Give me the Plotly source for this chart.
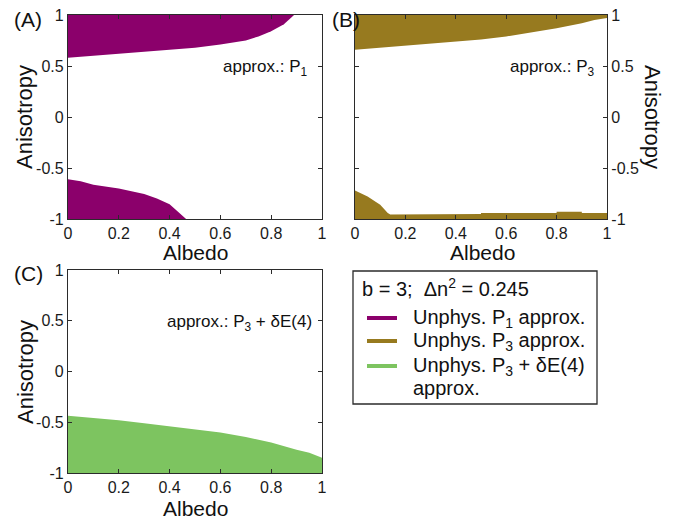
import plotly.graph_objects as go

# ---------------- data ----------------
albedo_A_top = [0.0, 0.1, 0.2, 0.3, 0.4, 0.5, 0.6, 0.7, 0.75, 0.8, 0.85, 0.89]
aniso_A_top = [0.58, 0.60, 0.62, 0.64, 0.66, 0.68, 0.71, 0.75, 0.79, 0.84, 0.91, 1.0]
albedo_A_bot = [0.0, 0.05, 0.1, 0.2, 0.3, 0.35, 0.4, 0.44, 0.465]
aniso_A_bot = [-0.61, -0.63, -0.665, -0.70, -0.755, -0.80, -0.855, -0.94, -1.0]

albedo_B_top = [0.0, 0.1, 0.2, 0.3, 0.4, 0.5, 0.6, 0.7, 0.8, 0.9, 0.95, 1.0]
aniso_B_top = [0.66, 0.68, 0.70, 0.72, 0.74, 0.76, 0.79, 0.83, 0.87, 0.92, 0.95, 0.97]
albedo_B_bot = [0.0, 0.05, 0.1, 0.13, 0.14, 0.2, 0.2, 0.5, 0.5, 0.8, 0.8, 0.9, 0.9, 1.0]
aniso_B_bot = [-0.72, -0.78, -0.86, -0.94, -0.955, -0.955, -0.95, -0.95, -0.94, -0.94,
               -0.93, -0.93, -0.94, -0.94]

albedo_C = [0.0, 0.1, 0.2, 0.3, 0.4, 0.5, 0.6, 0.7, 0.8, 0.9, 0.95, 1.0]
aniso_C = [-0.435, -0.455, -0.48, -0.51, -0.54, -0.57, -0.60, -0.645, -0.70, -0.77, -0.80, -0.85]

tick_vals_x = [0, 0.2, 0.4, 0.6, 0.8, 1]
tick_text_x = ["0", "0.2", "0.4", "0.6", "0.8", "1"]
tick_vals_y = [-1, -0.5, 0, 0.5, 1]
tick_text_y = ["-1", "-0.5", "0", "0.5", "1"]

legend_title = "b = 3;  \u0394n<sup>2</sup> = 0.245"
legend_labels = ["Unphys. P<sub>1</sub> approx.",
                 "Unphys. P<sub>3</sub> approx.",
                 "Unphys. P<sub>3</sub> + \u03b4E(4)"]
panel_notes = ["approx.: P<sub>1</sub>", "approx.: P<sub>3</sub>",
               "approx.: P<sub>3</sub> + \u03b4E(4)"]

PURPLE = "#8B006B"
OLIVE = "#977A1F"
GREEN = "#7DC460"
FONT = "Liberation Sans, Arial, sans-serif"
AXC = "#2b2b2b"

W, H = 676, 516
OFF = 8  # page body margin the figure sits inside


def px_x(p):
    return (p - OFF) / W


def px_y(p):
    return 1 - (p - OFF) / H


fig = go.Figure()


def top_region(x, y, color, xa, ya):
    xs = list(x) + [x[-1], x[0]]
    ys = list(y) + [1.0, 1.0]
    fig.add_trace(go.Scatter(x=xs, y=ys, fill="toself", fillcolor=color, mode="lines",
                             line=dict(width=0, color=color), showlegend=False,
                             hoverinfo="skip", xaxis=xa, yaxis=ya))


def bottom_region(x, y, color, xa, ya):
    xs = list(x) + [x[-1], x[0]]
    ys = list(y) + [-1.0, -1.0]
    fig.add_trace(go.Scatter(x=xs, y=ys, fill="toself", fillcolor=color, mode="lines",
                             line=dict(width=0, color=color), showlegend=False,
                             hoverinfo="skip", xaxis=xa, yaxis=ya))


top_region(albedo_A_top, aniso_A_top, PURPLE, "x", "y")
bottom_region(albedo_A_bot, aniso_A_bot, PURPLE, "x", "y")
top_region(albedo_B_top, aniso_B_top, OLIVE, "x2", "y2")
bottom_region(albedo_B_bot, aniso_B_bot, OLIVE, "x2", "y2")
bottom_region(albedo_C, aniso_C, GREEN, "x3", "y3")

TICKFONT = dict(family=FONT, size=16, color="#1a1a1a")

xdomA = [px_x(68), px_x(322)]
xdomB = [px_x(355), px_x(607)]
ydomTop = [px_y(219), px_y(15)]
ydomC = [px_y(473), px_y(270)]


def xax(dom, anchor):
    return dict(domain=dom, anchor=anchor, range=[0, 1], tickvals=tick_vals_x,
                ticktext=tick_text_x, showline=True, linecolor=AXC, linewidth=1.3,
                mirror="ticks", ticks="inside", ticklen=4, tickcolor=AXC, showgrid=False,
                zeroline=False, tickfont=TICKFONT, fixedrange=True, automargin=False,
                ticklabeloverflow="allow")


def yax(dom, anchor, side="left"):
    return dict(domain=dom, anchor=anchor, range=[-1, 1], tickvals=tick_vals_y,
                ticktext=tick_text_y, side=side, showline=True, linecolor=AXC, linewidth=1.3,
                mirror="ticks", ticks="inside", ticklen=4, tickcolor=AXC, showgrid=False,
                zeroline=False, tickfont=TICKFONT, fixedrange=True, automargin=False,
                ticklabeloverflow="allow")


fig.update_layout(
    width=W, height=H, margin=dict(l=0, r=0, t=0, b=0, pad=0), autosize=False,
    paper_bgcolor="white", plot_bgcolor="white", showlegend=False,
    xaxis=xax(xdomA, "y"), yaxis=yax(ydomTop, "x"),
    xaxis2=xax(xdomB, "y2"), yaxis2=yax(ydomTop, "x2", side="right"),
    xaxis3=xax(xdomA, "y3"), yaxis3=yax(ydomC, "x3"),
)

ann = []


def text(x, y, s, size, xanchor="center", yanchor="middle", angle=0):
    ann.append(dict(x=px_x(x), y=px_y(y), xref="paper", yref="paper", text=s, showarrow=False,
                    xanchor=xanchor, yanchor=yanchor, textangle=angle,
                    font=dict(family=FONT, size=size, color="#111111")))


text(28, 19, "(A)", 21)
text(346, 19, "(B)", 21)
text(28, 273, "(C)", 21)
text(25, 117, "Anisotropy", 22, angle=-90)
text(195, 253, "Albedo", 21)
text(482, 253, "Albedo", 21)
text(652, 117, "Anisotropy", 22, angle=90)
text(25, 372, "Anisotropy", 22, angle=-90)
text(196, 508, "Albedo", 21)
text(310, 68, panel_notes[0], 17, xanchor="right")
text(597, 68, panel_notes[1], 17, xanchor="right")
text(314, 323, panel_notes[2], 17, xanchor="right")

text(360, 287, legend_title, 20, xanchor="left")
legend_colors = [PURPLE, OLIVE, GREEN]
legend_rows = [318, 341, 366]
for lab, yy in zip(legend_labels, legend_rows):
    text(411, yy, lab, 20, xanchor="left")
text(411, 388, "approx.", 20, xanchor="left")

shapes = [dict(type="rect", xref="paper", yref="paper", x0=px_x(353), x1=px_x(597),
               y0=px_y(404), y1=px_y(271), line=dict(color=AXC, width=1.3))]
for c, yy in zip(legend_colors, legend_rows):
    shapes.append(dict(type="line", xref="paper", yref="paper", x0=px_x(367), x1=px_x(397),
                       y0=px_y(yy), y1=px_y(yy), line=dict(color=c, width=4)))

fig.update_layout(annotations=ann, shapes=shapes)

fig.write_html("out.html")
